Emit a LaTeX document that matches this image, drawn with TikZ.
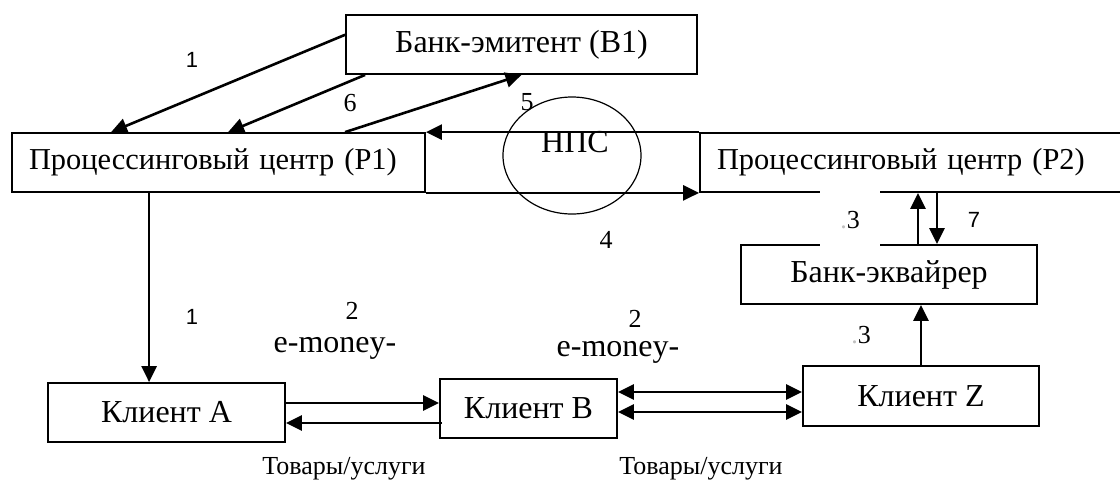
\documentclass[tikz,border=0pt]{standalone}
\usepackage{fontspec}
\setmainfont{Liberation Serif}
\newfontfamily\labelsans{Liberation Sans}
\usetikzlibrary{arrows.meta, calc, shapes.geometric}

\begin{document}
\begin{tikzpicture}[x=0.5pt, y=-0.5pt,
  >={Triangle[length=8pt,width=7.5pt]},
  box/.style={draw, line width=0.9pt, inner sep=0pt, minimum height=29.5pt,
    font=\fontsize{16}{19}\selectfont},
  centre/.style={box, font=\fontsize{15.2}{18}\selectfont, inner xsep=8.5pt, align=left},
  flow/.style={->, line width=1.3pt},
  num/.style={font=\fontsize{13}{15}\selectfont, inner sep=0pt},
  numsans/.style={font=\labelsans\fontsize{11}{13}\selectfont, inner sep=0pt},
  money/.style={font=\fontsize{16}{19}\selectfont, inner sep=0pt},
  goods/.style={font=\fontsize{13}{15}\selectfont, inner sep=1pt}]

%% ============================================================
%% Picture frame (1120 x 479 px, y runs downwards)
%% ============================================================
\clip (0,0) rectangle (1120,479);

%% ---- Banks and processing centres ----
\node[box, minimum width=175.5pt] (bank1) at (521.5,44.5) {Банк-эмитент (B1)};
\node[centre, text width=189.5pt] (p1) at (218.5,162.5) {Процессинговый центр (P1)};
\node[centre, text width=198pt] (p2) at (915,162.5) {Процессинговый центр (P2)};
\node[box, minimum width=148pt] (acq) at (889,274.5) {Банк-эквайрер};

%% ---- Clients ----
\node[box, minimum width=118.5pt] (cla) at (166.5,412.5) {Клиент A};
\node[box, minimum width=88.5pt] (clb) at (528.5,408.5) {Клиент B};
\node[box, minimum width=118pt, minimum height=30pt] (clz) at (921,396) {Клиент Z};

%% ---- Payment system (ellipse over the link P1 -- P2) ----
\node[draw, ellipse, line width=0.6pt, minimum width=69pt, minimum height=58.5pt]
  (nps) at (572,155.5) {};
\node[money] (npstext) at ($(nps.center)+(3,-13.5)$) {НПС};

\draw[flow] (p2.north west) -- (p1.north east);
\draw[flow] (p1.south east) -- (p2.south west);

%% ---- Issuer <-> P1 ----
\draw[flow] ($(bank1.north west)!0.34!(bank1.south west)$) -- ($(p1.north west)+(100,0)$);
\draw[flow] ($(bank1.south west)+(20,0)$) -- ($(p1.north west)+(217,0)$);
\draw[flow] ($(p1.north west)+(334,0)$) -- (bank1.south);

%% ---- P1 -> client A ----
\coordinate (p1dn) at ($(p1.south west)+(138,0)$);
\draw[flow] (p1dn) -- (p1dn |- cla.north);

%% ---- Client A <-> client B ----
\draw[flow] ($(cla.east)+(0,-9.5)$) -- ($(clb.west)+(0,-5.5)$);
\draw[flow] ($(clb.west)+(3,14.5)$) -- ($(cla.east)+(0,10.5)$);

%% ---- Client B <-> client Z ----
\draw[flow, <->] ($(clb.east)+(0,-16.5)$) -- ($(clz.west)+(0,-4)$);
\draw[flow, <->] ($(clb.east)+(0,3.5)$) -- ($(clz.west)+(0,16)$);

%% ---- Client Z -> acquirer <-> P2 ----
\draw[flow] (clz.north) -- (clz.north |- acq.south);
\coordinate (acqup) at ($(acq.north)+(29,0)$);
\coordinate (acqdn) at ($(acq.north)+(48,0)$);
\draw[flow] (acqup) -- (acqup |- p2.south);
\draw[flow] (acqdn |- p2.south) -- (acqdn);

%% ---- Step numbers ----
\node[numsans] (n1a) at (192,60) {1};
\node[num] (n6) at (350,103) {6};
\node[num] (n5) at (527,102) {5};
\node[num] (n4) at (606,240) {4};
\node[num, fill=white, minimum width=30pt, minimum height=30pt]
  (n3a) at (850,220) {\textcolor{gray!50}{.}3};
\node[numsans] (n7) at (974,220) {7};
\node[numsans] (n1b) at (192,317) {1};
\node[num] (n3b) at (861,335) {\textcolor{gray!50}{.}3};

%% ---- Exchange labels ----
\node[num] (n2a) at (352,311) {2};
\node[money] (emoneya) at (335,348) {e-money-};
\node[goods] (goodsa) at (344,469) {Товары/услуги};

\node[num] (n2b) at (635,319) {2};
\node[money] (emoneyb) at (618,352) {e-money-};
\node[goods] (goodsb) at (701,469) {Товары/услуги};

\end{tikzpicture}
\end{document}
